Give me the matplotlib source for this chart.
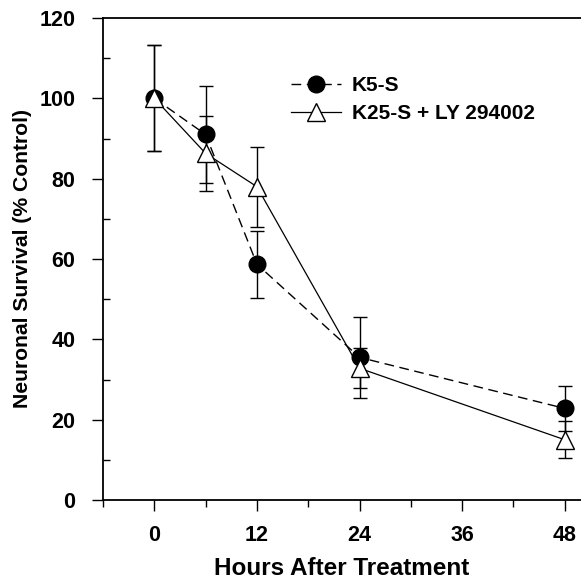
import matplotlib
matplotlib.use("Agg")
import matplotlib.pyplot as plt
from matplotlib.ticker import MultipleLocator

plt.rcParams['font.family'] = ['Liberation Sans', 'DejaVu Sans']
plt.rcParams['font.weight'] = 'bold'

# hours after treatment
hours = [0, 6, 12, 24, 48]

# K5-S (filled circles, dashed)
k5_mean = [100, 91, 58.7, 35.5, 22.8]
k5_err = [13.2, 12, 8.3, 10, 5.7]

# K25-S + LY 294002 (open triangles, solid)
ly_mean = [100, 86.3, 78, 32.8, 15]
ly_err = [13.2, 9.4, 10, 5, 4.6]

fig = plt.figure(figsize=(5.81, 5.83), dpi=100)
ax = fig.add_axes([103/581, 1 - 500/583, 1 - 103/581, 482/583])

# error bars (no legend entry)
ax.errorbar(hours, k5_mean, yerr=k5_err, fmt='none', ecolor='black',
            capsize=5, elinewidth=1.0, capthick=1.0, zorder=2)
ax.errorbar(hours, ly_mean, yerr=ly_err, fmt='none', ecolor='black',
            capsize=5, elinewidth=1.0, capthick=1.0, zorder=2)

ax.plot(hours, k5_mean, color='black', linestyle=(0, (7, 4)), linewidth=1.0,
        marker='o', markersize=12, markerfacecolor='black',
        markeredgecolor='black', label='K5-S', zorder=3)
ax.plot(hours, ly_mean, color='black', linestyle='-', linewidth=0.9,
        marker='^', markersize=13, markerfacecolor='white',
        markeredgecolor='black', markeredgewidth=1.0,
        label='K25-S + LY 294002', zorder=4)

ax.set_xlim(-6, 49.9)
ax.set_ylim(0, 120)
ax.xaxis.set_major_locator(MultipleLocator(12))
ax.xaxis.set_minor_locator(MultipleLocator(6))
ax.yaxis.set_major_locator(MultipleLocator(20))
ax.yaxis.set_minor_locator(MultipleLocator(10))
ax.tick_params(axis='both', which='major', direction='out', length=8, width=1,
               labelsize=15.5, pad=12)
ax.tick_params(axis='x', which='major', pad=10)
ax.tick_params(axis='both', which='minor', direction='out', length=5, width=1)
ax.tick_params(axis='y', which='minor', direction='in')
ax.spines['right'].set_visible(False)
for s in ['left', 'bottom', 'top']:
    ax.spines[s].set_linewidth(1.3)

ax.set_xlabel('Hours After Treatment', fontsize=17.5, fontweight='bold', labelpad=8)
ax.set_ylabel('Neuronal Survival (% Control)', fontsize=15.2, fontweight='bold',
              labelpad=5)

leg = ax.legend(loc='upper left', bbox_to_anchor=(0.355, 0.918), frameon=False,
                fontsize=15, handlelength=2.4, handletextpad=0.5,
                labelspacing=0.42)
for t in leg.get_texts():
    t.set_fontweight('bold')

fig.savefig('out.png', dpi=100)
